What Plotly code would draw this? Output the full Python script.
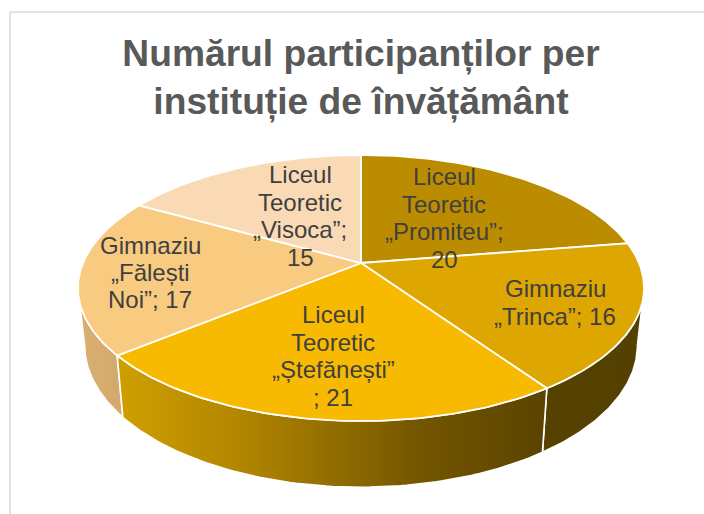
import math
import plotly.graph_objects as go

TITLE = "Numărul participanților per<br>instituție de învățământ"
categories = ["Liceul Teoretic „Promiteu”", "Gimnaziu „Trinca”", "Liceul Teoretic „Ștefănești”",
              "Gimnaziu „Fălești Noi”", "Liceul Teoretic „Visoca”"]
values = [20, 16, 21, 17, 15]
label_lines = [
    ["Liceul", "Teoretic", "„Promiteu”;", "20"],
    ["Gimnaziu", "„Trinca”; 16"],
    ["Liceul", "Teoretic", "„Ștefănești”", "; 21"],
    ["Gimnaziu", "„Fălești", "Noi”; 17"],
    ["Liceul", "Teoretic", "„Visoca”;", "15"],
]
top_colors = ["#BC8C00", "#DEA600", "#F8BA00", "#F9CB80", "#F9DAB5"]

# label block centre, in page pixels
label_pos = [(444, 218), (555, 302.5), (333, 356), (150, 272.5), (300, 216)]
LINE_STEP = 27.4
LABEL_SIZE = 24

PAGE_W, PAGE_H = 704, 514

# perspective disc geometry (page pixels)
CX, CY = 361, 263
A, B, K = 278, 128.3, 0.188
A2, B2, CY2 = 271.5, 137, 318.5
RIGHT_EDGE = math.degrees(math.atan2(math.sqrt(1 - K * K), -K))
LEFT_EDGE = 360 - RIGHT_EDGE


def top_pt(deg):
    t = math.radians(deg)
    X, Y = math.sin(t), math.cos(t)
    w = 1 + K * Y
    return CX + A * X / w, CY - B * Y / w


def bot_pt(deg):
    t = math.radians(deg)
    X, Y = math.sin(t), math.cos(t)
    w = 1 + K * Y
    return CX + A2 * X / w, CY2 - B2 * Y / w


def arc(fn, a0, a1, n=80):
    pts = [fn(a0 + (a1 - a0) * i / n) for i in range(n + 1)]
    return [p[0] for p in pts], [p[1] for p in pts]


fig = go.Figure()
total = sum(values)
angles = [0]
for v in values:
    angles.append(angles[-1] + v / total * 360)

side_grad = {
    1: dict(type="horizontal", start=118, stop=548,
            colorscale=[[0, "#CF9F00"], [0.3, "#B08400"], [0.7, "#745600"], [1, "#5A4300"]]),
    3: dict(type="horizontal", start=78, stop=122,
            colorscale=[[0, "#D9B074"], [1, "#D3A96A"]]),
    0: dict(type="horizontal", start=543, stop=644,
            colorscale=[[0, "#554100"], [1, "#544000"]]),
}
# visible side walls, clipped to the front of the disc
for key, i in ((3, 3), (0, 1), (1, 2)):
    a0 = max(angles[i], RIGHT_EDGE)
    a1 = min(angles[i + 1], LEFT_EDGE)
    tx, ty = arc(top_pt, a0, a1)
    bx, by = arc(bot_pt, a0, a1)
    xs = tx + bx[::-1] + [tx[0]]
    ys = ty + by[::-1] + [ty[0]]
    fig.add_trace(go.Scatter(x=xs, y=ys, mode="lines", fill="toself",
                             fillgradient=side_grad[key],
                             line=dict(color="#FFFFFF", width=1.6),
                             hoverinfo="skip", showlegend=False, name=categories[i] + " side"))

# top face
for i, v in enumerate(values):
    ax, ay = arc(top_pt, angles[i], angles[i + 1])
    xs = [CX] + ax + [CX]
    ys = [CY] + ay + [CY]
    fig.add_trace(go.Scatter(x=xs, y=ys, mode="lines", fill="toself", fillcolor=top_colors[i],
                             line=dict(color="#FFFFFF", width=1.8),
                             hoverinfo="skip", showlegend=False, name=categories[i]))

annotations = []
for lines, (lx, ly) in zip(label_lines, label_pos):
    n = len(lines)
    for j, text in enumerate(lines):
        annotations.append(dict(x=lx, y=ly + (j - (n - 1) / 2) * LINE_STEP, xref="x", yref="y",
                                text=text, showarrow=False, xanchor="center", yanchor="middle",
                                font=dict(family="Liberation Sans, Arial", size=LABEL_SIZE, color="#404040")))

fig.update_layout(
    width=PAGE_W, height=PAGE_H, margin=dict(l=0, r=0, t=0, b=0),
    paper_bgcolor="#FFFFFF", plot_bgcolor="#FFFFFF", showlegend=False,
    title=dict(text=TITLE, x=361 / PAGE_W, xanchor="center",
               y=1 - 66 / PAGE_H, yanchor="middle",
               font=dict(family="Liberation Sans, Arial", size=37.2, color="#595959", weight="bold")),
    xaxis=dict(range=[0, PAGE_W], visible=False, fixedrange=True),
    yaxis=dict(range=[PAGE_H, 0], visible=False, fixedrange=True),
    annotations=annotations,
    shapes=[
        dict(type="line", xref="x", yref="y", x0=10, x1=704, y0=12, y1=12,
             line=dict(color="#D9D9D9", width=1.5), layer="below"),
        dict(type="line", xref="x", yref="y", x0=10, x1=10, y0=12, y1=514,
             line=dict(color="#D9D9D9", width=1.5), layer="below"),
    ],
)
fig.write_html("out.html", config={"displayModeBar": False},
               post_script="document.body.style.margin='0';document.documentElement.style.overflow='hidden';")
